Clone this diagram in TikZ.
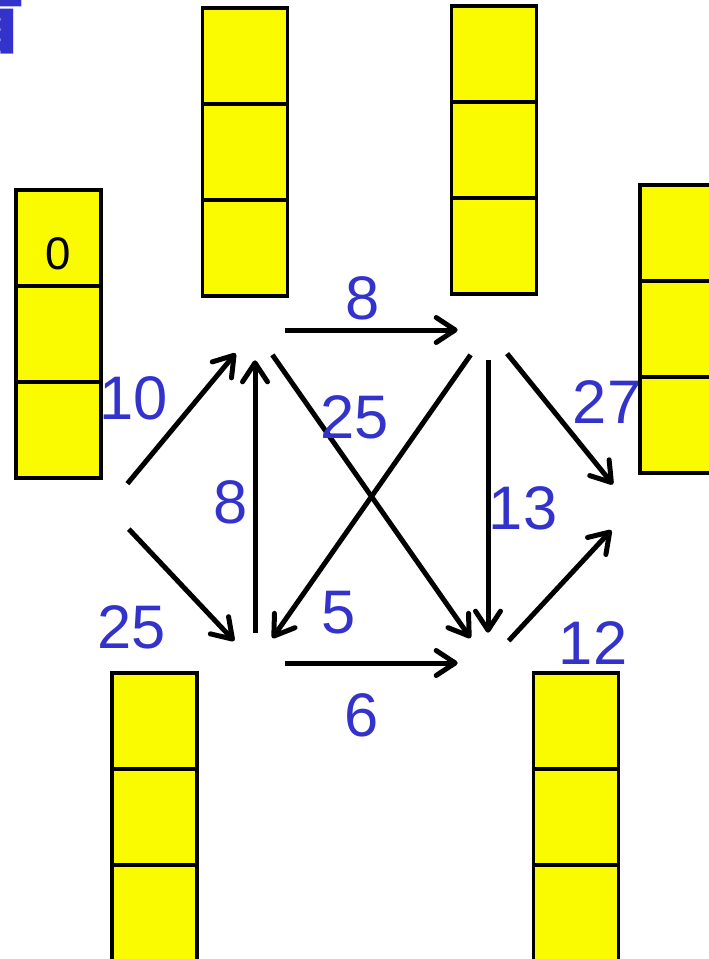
\documentclass[tikz,border=0pt]{standalone}
\usepackage{fontspec}
\setmainfont{Liberation Sans}
\newfontfamily\cjkfont{Noto Sans CJK SC}
\usepackage{tikz}
\usetikzlibrary{arrows.meta,positioning}
\definecolor{dkblue}{HTML}{3333CC}
\definecolor{cellyel}{HTML}{FAFA00}
\tikzset{
  cell/.style={draw=black, fill=cellyel, line width=0.07cm,
    minimum width=1.7cm, minimum height=1.92cm, inner sep=0pt, outer sep=0pt},
  vtx/.style={circle, minimum size=1.2cm, inner sep=0pt},
  wlabel/.style={text=dkblue, font=\fontsize{35}{35}\selectfont, inner sep=0pt},
  warr/.style={-{Straight Barb[length=0.38cm, width=0.5cm, round]}, line width=0.1cm, draw=black}
}

\begin{document}
\begin{tikzpicture}[x=0.02cm, y=-0.02cm]
\useasboundingbox (0,0) rectangle (709,959);
\clip (0,0) rectangle (709,959);
% cut-off title
\node[anchor=base east, inner sep=0pt, text=dkblue,
  font=\cjkfont\bfseries\fontsize{50}{50}\selectfont] (title) at (27,46) {看};
% distance stacks
\node[cell] (s1) at (58.5,238) {};
\node[cell, below=0pt of s1] (s2) {};
\node[cell, below=0pt of s2] (s3) {};
\node[cell] (a1) at (245,56) {};
\node[cell, below=0pt of a1] (a2) {};
\node[cell, below=0pt of a2] (a3) {};
\node[cell] (c1) at (494,54) {};
\node[cell, below=0pt of c1] (c2) {};
\node[cell, below=0pt of c2] (c3) {};
\node[cell] (t1) at (682.5,233) {};
\node[cell, below=0pt of t1] (t2) {};
\node[cell, below=0pt of t2] (t3) {};
\node[cell] (b1) at (154.5,721) {};
\node[cell, below=0pt of b1] (b2) {};
\node[cell, below=0pt of b2] (b3) {};
\node[cell] (d1) at (576,721) {};
\node[cell, below=0pt of d1] (d2) {};
\node[cell, below=0pt of d2] (d3) {};
\node[inner sep=0pt, font=\fontsize{26}{26}\selectfont] (zero) at (58,254) {0};
% graph vertices
\node[vtx] (s) at (108,507) {};
\node[vtx] (a) at (255,330) {};
\node[vtx] (b) at (255,663) {};
\node[vtx] (c) at (488,330) {};
\node[vtx] (d) at (488,663) {};
\node[vtx] (t) at (632,508) {};
% edges
\draw[warr] (s) -- (a);
\draw[warr] (s) -- (b);
\draw[warr] (b) -- (a);
\draw[warr] (a) -- (c);
\draw[warr] (a) -- (d);
\draw[warr] (c) -- (b);
\draw[warr] (b) -- (d);
\draw[warr] (c) -- (d);
\draw[warr] (c) -- (t);
\draw[warr] (d) -- (t);
% weights
\node[wlabel] (wsa) at (134,398) {10};
\node[wlabel] (wsb) at (132,627) {25};
\node[wlabel] (wba) at (231,502) {8};
\node[wlabel] (wac) at (363,298) {8};
\node[wlabel] (wad) at (355,417) {25};
\node[wlabel] (wcb) at (339,613) {5};
\node[wlabel] (wbd) at (362,715) {6};
\node[wlabel] (wcd) at (523,508) {13};
\node[wlabel] (wct) at (607,402) {27};
\node[wlabel] (wdt) at (593,643) {12};
\end{tikzpicture}
\end{document}
